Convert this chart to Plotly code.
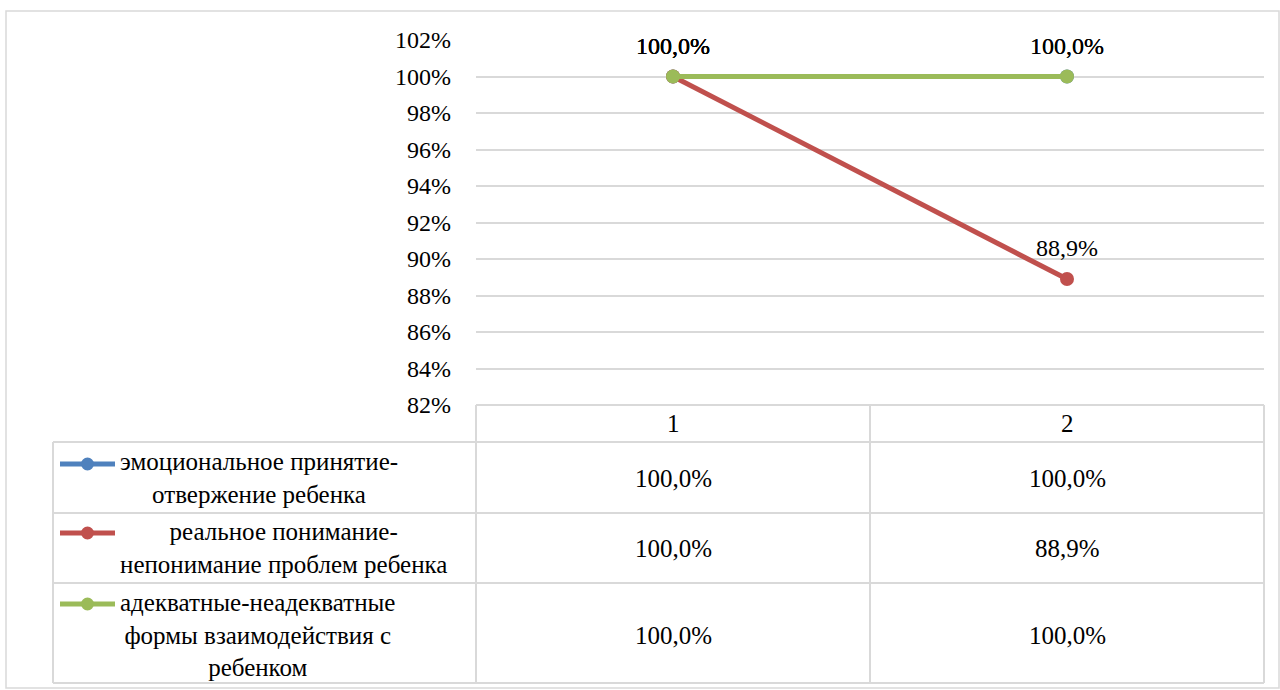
import plotly.graph_objects as go

categories = ["1", "2"]
series_names = [
    "эмоциональное принятие-<br>отвержение ребенка",
    "реальное понимание-<br>непонимание проблем ребенка",
    "адекватные-неадекватные<br>формы взаимодействия с<br>ребенком",
]
emotional = [100.0, 100.0]
understanding = [100.0, 88.9]
interaction = [100.0, 100.0]
series_values = [emotional, understanding, interaction]
colors = ["#4F81BD", "#C0504D", "#9BBB59"]
y_ticks = [82, 84, 86, 88, 90, 92, 94, 96, 98, 100, 102]

FONT = "Liberation Serif, Times New Roman, serif"
FS = 24
FS_T = 25
GRID = "#D9D9D9"

W, H = 1280, 690
PL, PR, PT, PB = 476, 1264, 40, 405


def fx(px):
    return (px - PL) / (PR - PL)


def fy(py):
    return (PB - py) / (PB - PT)


def fmt(v):
    return f"{v:.1f}".replace(".", ",") + "%"


fig = go.Figure()
annotations = []
for name, vals, col in zip(series_names, series_values, colors):
    fig.add_trace(go.Scatter(
        x=categories, y=vals, mode="lines+markers",
        name=name.replace("<br>", " "),
        line=dict(color=col, width=5),
        marker=dict(color=col, size=14),
        cliponaxis=False, showlegend=False,
    ))
    # data labels
    for ci, v in enumerate(vals):
        annotations.append(dict(x=ci, xref="x", y=v, yref="y", yshift=31,
                                text=fmt(v), showarrow=False,
                                font=dict(family=FONT, size=FS, color="#000"),
                                xanchor="center", yanchor="middle"))

shapes = []
shapes.append(dict(type="rect", xref="paper", yref="paper",
                   x0=fx(6), x1=fx(1279), y0=fy(688), y1=fy(11),
                   line=dict(color=GRID, width=1.5), layer="below"))
row_lines = [442, 513, 583, 683]
line_style = dict(color=GRID, width=2)
shapes.append(dict(type="line", xref="paper", yref="paper",
                   x0=fx(PL), x1=fx(PR), y0=fy(405), y1=fy(405), line=line_style))
for ry in row_lines:
    shapes.append(dict(type="line", xref="paper", yref="paper",
                       x0=fx(53), x1=fx(PR), y0=fy(ry), y1=fy(ry), line=line_style))
for cx in [PL, 870, PR]:
    shapes.append(dict(type="line", xref="paper", yref="paper",
                       x0=fx(cx), x1=fx(cx), y0=fy(405), y1=fy(683), line=line_style))
shapes.append(dict(type="line", xref="paper", yref="paper",
                   x0=fx(53), x1=fx(53), y0=fy(442), y1=fy(683), line=line_style))

for ci, c in enumerate(categories):
    annotations.append(dict(x=ci, xref="x", y=fy(423), yref="paper", text=c,
                            showarrow=False, font=dict(family=FONT, size=FS_T, color="#000"),
                            xanchor="center", yanchor="middle"))
row_centers = [478, 548, 635]
key_y = [464, 533, 604]
for i, (name, vals, col) in enumerate(zip(series_names, series_values, colors)):
    for ci, v in enumerate(vals):
        annotations.append(dict(x=ci, xref="x", y=fy(row_centers[i]), yref="paper",
                                text=fmt(v), showarrow=False,
                                font=dict(family=FONT, size=FS_T, color="#000"),
                                xanchor="center", yanchor="middle"))
    annotations.append(dict(x=fx(118), xref="paper", y=fy(row_centers[i]), yref="paper",
                            text=name, showarrow=False, align="center",
                            font=dict(family=FONT, size=FS_T, color="#000"),
                            xanchor="left", yanchor="middle"))
    shapes.append(dict(type="line", xref="paper", yref="paper",
                       x0=fx(60), x1=fx(115), y0=fy(key_y[i]), y1=fy(key_y[i]),
                       line=dict(color=col, width=5)))
    shapes.append(dict(type="circle", xref="paper", yref="paper",
                       x0=fx(81), x1=fx(94), y0=fy(key_y[i] + 6.5), y1=fy(key_y[i] - 6.5),
                       fillcolor=col, line=dict(color=col, width=0)))

fig.update_layout(
    width=W, height=H,
    margin=dict(l=PL, r=W - PR, t=PT, b=H - PB, pad=0),
    paper_bgcolor="white", plot_bgcolor="white",
    font=dict(family=FONT, size=FS, color="#000"),
    xaxis=dict(type="category", categoryorder="array", categoryarray=categories,
               range=[-0.5, 1.5], showgrid=False, showticklabels=False,
               zeroline=False, showline=False, ticks=""),
    yaxis=dict(range=[82, 102], tickvals=y_ticks, ticktext=[f"{t}%" for t in y_ticks],
               showgrid=True, gridcolor=GRID, gridwidth=2, zeroline=False,
               showline=False, ticks="", ticklabelstandoff=24,
               tickfont=dict(family=FONT, size=FS, color="#000")),
    shapes=shapes, annotations=annotations,
)

fig.write_html("out.html", config={"displayModeBar": False},
               post_script="document.body.style.margin='0';document.body.style.overflow='hidden';")
